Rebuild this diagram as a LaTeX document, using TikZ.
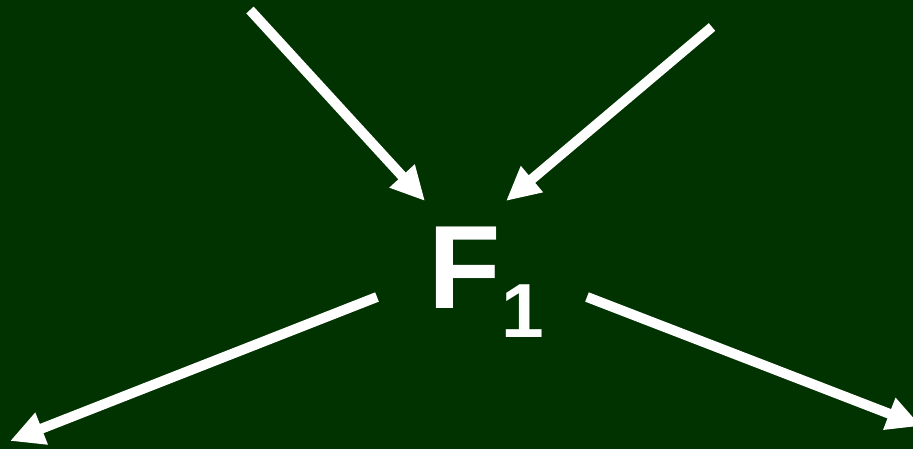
\documentclass[tikz,border=0pt]{standalone}
\usepackage{fontspec}
\setmainfont{Liberation Sans}
\usetikzlibrary{arrows.meta}
\definecolor{bg}{HTML}{003300}
\tikzset{
  flow/.style={draw=white, line width=10bp, -{Triangle[length=34bp,width=32bp]}},
  lbl/.style={text=white, inner sep=0pt, anchor=base west}
}
\begin{document}
\begin{tikzpicture}[x=1bp,y=-1bp]
\fill[bg] (0,0) rectangle (913,449);
\useasboundingbox (0,0) rectangle (913,449);
\node[lbl, font=\fontsize{119}{119}\selectfont\bfseries] (f) at (428,309) {F};
\node[lbl, font=\fontsize{77}{77}\selectfont\bfseries, anchor=base west] (sub) at ([xshift=0.5bp]f.base east |- 0,338) {1};
\coordinate (a1) at (250,10);
\coordinate (b1) at (425,201);
\coordinate (a2) at (712,27);
\coordinate (b2) at (506,201);
\coordinate (a3) at (377,297);
\coordinate (b3) at (10,441);
\coordinate (a4) at (587,297);
\coordinate (b4) at (921,426);
\draw[flow] (a1) -- (b1);
\draw[flow] (a2) -- (b2);
\draw[flow] (a3) -- (b3);
\draw[flow] (a4) -- (b4);
\end{tikzpicture}
\end{document}
